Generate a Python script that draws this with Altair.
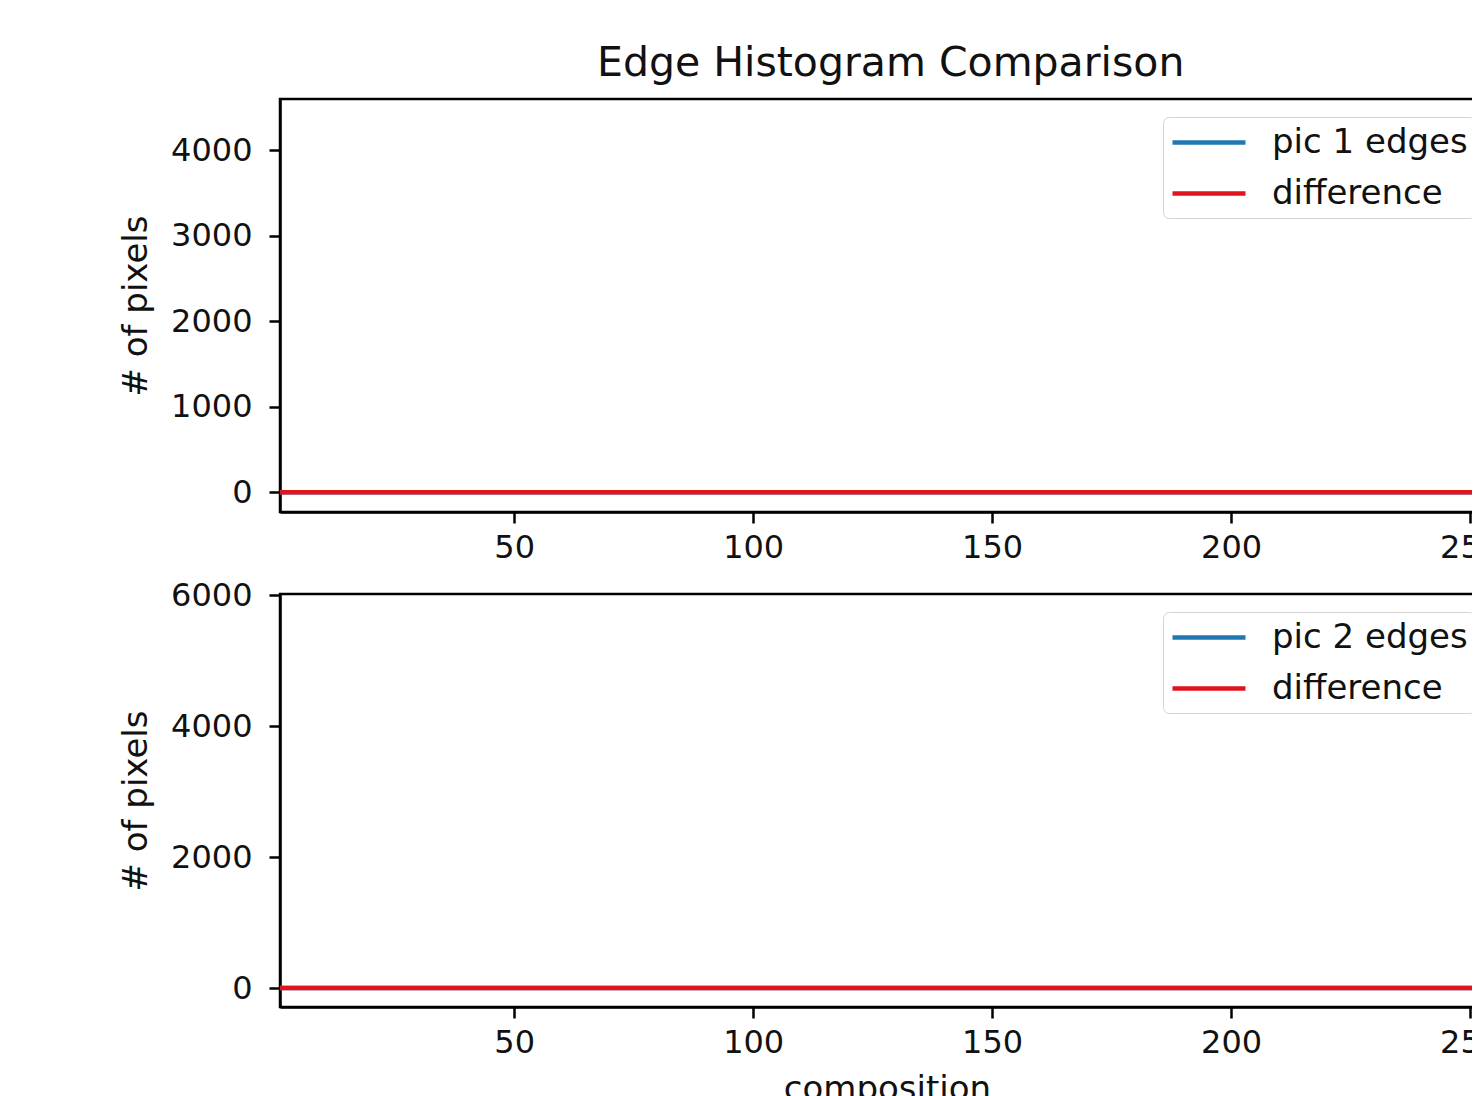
import altair as alt
import pandas as pd

# ---- data ----
bins = [1, 50, 100, 150, 200, 250, 254, 255]
pic1_edges = [0, 0, 0, 0, 0, 0, 0, 4390]
pic2_edges = [0, 0, 0, 0, 0, 0, 0, 5735]
difference = [0, 0, 0, 0, 0, 0, 0, 1345]

x_ticks = [50, 100, 150, 200, 250]
y_ticks_top = [0, 1000, 2000, 3000, 4000]
y_ticks_bottom = [0, 2000, 4000, 6000]
x_domain = [1, 255]
y_domain_top = [-230, 4600]
y_domain_bottom = [-290, 6020]

BLUE = "#1f77b4"
RED = "#e0141e"
FONT = "DejaVu Sans"

W = 1214
H = 413


def panel(label, values, y_domain, y_ticks, show_x_title):
    df = pd.DataFrame(
        {"bin": bins * 2,
         "count": values + difference,
         "series": [label] * len(bins) + ["difference"] * len(bins)}
    )
    x = alt.X(
        "bin:Q",
        scale=alt.Scale(domain=x_domain, nice=False, zero=False),
        axis=alt.Axis(values=x_ticks, title="composition" if show_x_title else None),
    )
    y = alt.Y(
        "count:Q",
        scale=alt.Scale(domain=y_domain, nice=False, zero=False),
        axis=alt.Axis(values=y_ticks, title="# of pixels", format="d"),
    )
    color = alt.Color(
        "series:N",
        scale=alt.Scale(domain=[label, "difference"], range=[BLUE, RED]),
        legend=alt.Legend(
            title=None,
            orient="none",
            legendX=883,
            legendY=18,
            symbolType="M-1,0H3.5625",
            symbolSize=1024,
            symbolStrokeWidth=4.5,
            labelFont=FONT,
            labelFontSize=34,
            labelColor="#111111",
            labelLimit=600,
            labelOffset=65,
            rowPadding=15,
            padding=7,
            strokeColor="#d4d4d4",
            fillColor="white",
            cornerRadius=6,
        ),
    )
    base = alt.Chart(df).encode(x=x, y=y, color=color)
    l1 = base.transform_filter(alt.datum.series == label).mark_line(strokeWidth=4.5, clip=True)
    l2 = base.transform_filter(alt.datum.series == "difference").mark_line(strokeWidth=4.5, clip=True)
    return alt.layer(l1, l2).properties(width=W, height=H)


top = panel("pic 1 edges", pic1_edges, y_domain_top, y_ticks_top, False)
bottom = panel("pic 2 edges", pic2_edges, y_domain_bottom, y_ticks_bottom, True)

chart = (
    alt.vconcat(top, bottom, spacing=82, bounds="flush")
    .resolve_scale(color="independent")
    .resolve_legend(color="independent")
    .properties(
        title=alt.TitleParams(
            "Edge Histogram Comparison",
            font=FONT,
            fontSize=41,
            fontWeight="normal",
            color="#111111",
            anchor="start",
            frame="group",
            dx=317,
            offset=13,
        ),
        autosize=alt.AutoSizeParams(type="none"),
        padding={"left": 272, "top": 91, "right": -22, "bottom": 1009},
        background="white",
    )
    .configure_view(stroke="black", strokeWidth=2.5)
    .configure_axis(
        grid=False,
        domainColor="black",
        domainWidth=2.5,
        tickColor="black",
        tickWidth=2.5,
        tickSize=11,
        labelFont=FONT,
        labelFontSize=32,
        labelColor="#111111",
        titleFont=FONT,
        titleFontSize=34,
        titleFontWeight="normal",
        titleColor="#111111",
        titlePadding=17,
    )
    .configure_axisX(labelPadding=9, titlePadding=14)
    .configure_axisY(labelPadding=17, titlePadding=17)
)

chart.save("out.html", embed_options={"renderer": "svg", "actions": False})
